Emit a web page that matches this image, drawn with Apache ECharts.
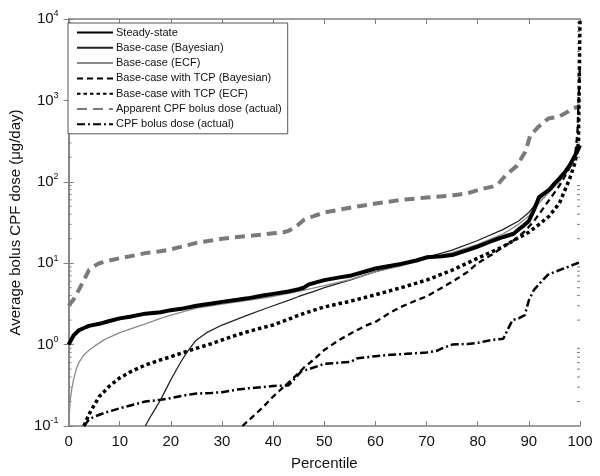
<!DOCTYPE html>
<html>
<head>
<meta charset="utf-8">
<script src="https://cdn.jsdelivr.net/npm/echarts@6/dist/echarts.min.js"></script>
<style>html,body{margin:0;padding:0;background:#fff;}#c{width:600px;height:476px;}</style>
</head>
<body>
<div id="c"></div>
<script>
// ---- data ----
var seriesNames = ["Steady-state","Base-case (Bayesian)","Base-case (ECF)","Base-case with TCP (Bayesian)","Base-case with TCP (ECF)","Apparent CPF bolus dose (actual)","CPF bolus dose (actual)"];
var xTicks = [0,10,20,30,40,50,60,70,80,90,100];
var yTickExponents = [-1,0,1,2,3,4];

var ssX = [0,1,2,3,4,6,8,10,12,15,18,20,22,25,28,30,33,35,38,40,43,45,46,47,50,53,55,58,60,63,65,68,70,73,75,78,80,83,85,87,88,89,90,91,92,93,94,95,96,97,98,99,100];
var ssY = [1.0,1.3,1.5,1.6,1.7,1.8,1.95,2.1,2.2,2.4,2.5,2.65,2.75,3.0,3.2,3.35,3.55,3.7,4.0,4.2,4.5,4.8,5.0,5.5,6.2,6.7,7.0,7.9,8.6,9.3,9.8,10.8,11.8,12.2,12.6,14.5,16,19,21,23,26,29,33,45,65,72,80,95,110,130,160,210,280];

var bbX = [15,16,17,18,19,20,21,22,23,24,25,27,30,33,35,38,40,43,45,48,50,55,60,65,70,75,80,85,88,90,92,94,96,98,100];
var bbY = [0.1,0.13,0.165,0.21,0.28,0.37,0.48,0.62,0.78,0.95,1.14,1.4,1.74,2.05,2.3,2.7,3.0,3.5,3.9,4.5,5.0,6.2,7.9,9.6,11.8,14.5,19,26,33,42,60,80,110,160,260];

var beX = [0,0.3,0.6,1,1.5,2,3,4,5,7,10,12,15,18,20,25,30,35,40,45,50,55,60,65,70,75,80,85,88,90,92,94,96,98,100];
var beY = [0.1,0.2,0.28,0.38,0.5,0.6,0.75,0.85,0.95,1.15,1.4,1.55,1.8,2.1,2.3,2.8,3.15,3.5,3.9,4.5,5.3,6.3,7.8,9.3,11.3,13.5,17,23,30,38,55,75,100,150,250];

var tbX = [34,36,38,40,42,44,46,48,50,53,55,58,60,63,65,68,70,73,75,78,80,83,85,87,89,90,91,92,94,96,98,99,99.5,100];
var tbY = [0.1,0.13,0.17,0.23,0.3,0.39,0.52,0.66,0.86,1.15,1.35,1.7,1.9,2.5,2.9,3.5,3.9,5.0,5.9,7.8,10,13,16,19,24,28,33,40,60,90,150,200,400,3000];

var teX = [3,4,5,6,8,10,12,15,18,20,23,25,28,30,33,35,38,40,43,45,48,50,55,60,65,70,75,80,85,87,90,92,94,96,98,99,99.7,100];
var teY = [0.1,0.14,0.18,0.23,0.31,0.39,0.46,0.56,0.65,0.71,0.82,0.9,1.03,1.14,1.32,1.44,1.62,1.74,2.05,2.3,2.65,2.9,3.4,4.1,5.0,6.2,8.2,11.5,16,19,24,30,38,55,110,170,300,10000];

var apX = [0,1,2,3,4,5,6,8,10,13,15,18,20,23,25,28,30,33,35,38,40,42,43,44,45,46,48,50,55,60,65,70,75,78,80,83,84,85.5,87.7,89.3,90.3,91.9,93.8,95.8,97.7,98.6,100];
var apY = [3.0,3.6,4.7,6.2,8.3,9.2,10,10.8,11.5,12.5,13.3,14,14.8,16.5,17.8,19,20,21,21.6,22.5,23.3,24,25,27,30,34,38,42,48,54,60,64,68,72,79,88,94,121,158,234,375,475,600,630,730,800,850];

var caX = [3,4,5,7,10,13,15,18,20,23,25,28,30,33,35,38,40,43,44.5,45.5,47,50,53,55,56.5,60,63,66,70,72,73,75,78,80,83,85,85.8,86.8,88,89.2,90,91,92.5,93.7,95,97,99.5,100];
var caY = [0.1,0.12,0.13,0.145,0.165,0.185,0.2,0.21,0.22,0.24,0.25,0.255,0.26,0.28,0.29,0.3,0.31,0.315,0.4,0.47,0.5,0.58,0.6,0.61,0.68,0.72,0.75,0.77,0.8,0.84,0.9,1.0,1.02,1.05,1.15,1.18,1.5,2.0,2.1,2.3,3.5,4.7,6.0,7.2,7.8,8.7,10,10.2];

var minorVals = [];
yTickExponents.forEach(function(e){ if (e < 4) { for (var m=2;m<=9;m++) minorVals.push(m*Math.pow(10,e)); } });

function pairs(xs, ys){ return xs.map(function(x,i){ return [x, ys[i]]; }); }

var FONT = 'Liberation Sans';
var chart = echarts.init(document.getElementById('c'), null, {renderer:'canvas'});

var axisGray = '#808080';
var option = {
  animation: false,
  backgroundColor: '#fff',
  textStyle: {fontFamily: FONT},
  grid: {left: 64, right: 20, top: 19, bottom: 50, containLabel: false},
  legend: {
    orient: 'vertical', left: 68, top: 23,
    backgroundColor: '#fff', borderColor: '#555', borderWidth: 1,
    padding: [4, 6, 4, 8],
    itemWidth: 36, itemHeight: 10, itemGap: 4.3,
    itemStyle: {opacity: 0},
    textStyle: {fontFamily: FONT, fontSize: 11, color: '#111', padding: [0,0,0,-2]},
    data: seriesNames
  },
  xAxis: [{
    type: 'value', min: 0, max: 100, interval: 10,
    name: 'Percentile', nameLocation: 'middle', nameGap: 30,
    nameTextStyle: {fontFamily: FONT, fontSize: 15, color: '#111'},
    axisLine: {lineStyle: {color: axisGray, width: 1.5}},
    axisTick: {inside: true, length: 5, lineStyle: {color: axisGray}},
    axisLabel: {fontFamily: FONT, fontSize: 15, color: '#111', margin: 8,
      formatter: function(v){ return xTicks.indexOf(v) >= 0 ? String(v) : ''; }},
    splitLine: {show: false}
  },{
    type: 'value', min: 0, max: 100, interval: 10, position: 'top',
    axisLine: {lineStyle: {color: axisGray, width: 1.5}},
    axisTick: {inside: true, length: 5, lineStyle: {color: axisGray}},
    axisLabel: {show: false}, splitLine: {show: false}
  }],
  yAxis: [{
    type: 'log', logBase: 10, min: 0.1, max: 10000,
    name: 'Average bolus CPF dose (\u03bcg/day)', nameLocation: 'middle', nameGap: 38,
    nameTextStyle: {fontFamily: FONT, fontSize: 15, color: '#111'},
    axisLine: {lineStyle: {color: axisGray, width: 1.5}},
    axisTick: {inside: true, length: 5, lineStyle: {color: axisGray}},
    axisLabel: {margin: 10, formatter: function(v){
        var e = Math.round(Math.log(v)/Math.LN10);
        if (yTickExponents.indexOf(e) < 0) return '';
        return '{b|10}{s|' + e + '}';
      },
      rich: {
        b: {fontFamily: FONT, fontSize: 15, color: '#111'},
        s: {fontFamily: FONT, fontSize: 9, color: '#111', verticalAlign: 'bottom', padding: [0,0,10,0]}
      }},
    splitLine: {show: false}
  },{
    type: 'log', logBase: 10, min: 0.1, max: 10000, position: 'right',
    axisLine: {lineStyle: {color: axisGray, width: 1.5}},
    axisTick: {inside: true, length: 5, lineStyle: {color: axisGray}},
    axisLabel: {show: false}, splitLine: {show: false}
  }],
  series: [
    {name: seriesNames[0], type: 'line', data: pairs(ssX, ssY), symbol: 'none', showSymbol: false,
      lineStyle: {color: '#000', width: 4}, itemStyle: {color: '#000'}, z: 8},
    {name: seriesNames[1], type: 'line', data: pairs(bbX, bbY), symbol: 'none', showSymbol: false,
      lineStyle: {color: '#222', width: 1.3}, itemStyle: {color: '#222'}, z: 7},
    {name: seriesNames[2], type: 'line', data: pairs(beX, beY), symbol: 'none', showSymbol: false,
      lineStyle: {color: '#8a8a8a', width: 1.3}, itemStyle: {color: '#8a8a8a'}, z: 7},
    {name: seriesNames[3], type: 'line', data: pairs(tbX, tbY), symbol: 'none', showSymbol: false,
      lineStyle: {color: '#000', width: 2.3, type: [6, 4]}, itemStyle: {color: '#000'}, z: 6},
    {name: seriesNames[4], type: 'line', data: pairs(teX, teY), symbol: 'none', showSymbol: false,
      lineStyle: {color: '#000', width: 3.5, type: [3.5, 3]}, itemStyle: {color: '#000'}, z: 6},
    {name: seriesNames[5], type: 'line', data: pairs(apX, apY), symbol: 'none', showSymbol: false,
      lineStyle: {color: '#7a7a7a', width: 4, type: [10, 6]}, itemStyle: {color: '#7a7a7a'}, z: 5},
    {name: seriesNames[6], type: 'line', data: pairs(caX, caY), symbol: 'none', showSymbol: false,
      lineStyle: {color: '#000', width: 2.5, type: [8, 3, 2, 3]}, itemStyle: {color: '#000'}, z: 6},
    {type: 'custom', silent: true, data: minorVals.map(function(v){ return [v]; }), z: 3,
      renderItem: function(params, api){
        var v = api.value(0);
        var pl = api.coord([0, v]);
        var pr = api.coord([100, v]);
        return {type: 'group', children: [
          {type: 'line', shape: {x1: pl[0], y1: pl[1], x2: pl[0]+3, y2: pl[1]}, style: {stroke: axisGray, lineWidth: 1}},
          {type: 'line', shape: {x1: pr[0]-3, y1: pr[1], x2: pr[0], y2: pr[1]}, style: {stroke: axisGray, lineWidth: 1}}
        ]};
      },
      encode: {y: 0}
    }
  ]
};
chart.setOption(option);
</script>
</body>
</html>
